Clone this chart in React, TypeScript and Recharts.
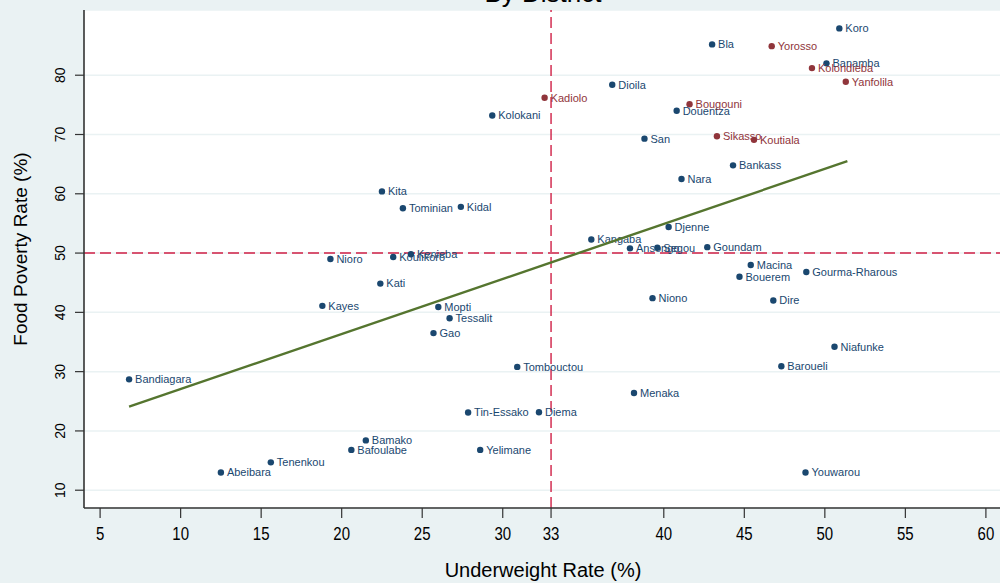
import React from "react";
import {
  ScatterChart,
  Scatter,
  XAxis,
  YAxis,
  CartesianGrid,
  ReferenceLine,
} from "recharts";

// districts outside Sikasso region (navy)
const blueNames = [
  "Koro", "Bla", "Banamba", "Dioila", "Douentza", "Kolokani", "San", "Bankass",
  "Nara", "Kita", "Tominian", "Kidal", "Djenne", "Kangaba", "Ansongo", "Segou",
  "Goundam", "Kenieba", "Koulikoro", "Nioro", "Macina", "Gourma-Rharous",
  "Bouerem", "Kati", "Niono", "Dire", "Kayes", "Mopti", "Tessalit", "Gao",
  "Niafunke", "Tombouctou", "Baroueli", "Bandiagara", "Menaka", "Tin-Essako",
  "Diema", "Bamako", "Bafoulabe", "Yelimane", "Tenenkou", "Abeibara", "Youwarou",
];
const blueUnderweight = [
  50.9, 43.0, 50.1, 36.8, 40.8, 29.35, 38.8, 44.3,
  41.1, 22.5, 23.8, 27.4, 40.3, 35.5, 37.9, 39.6,
  42.7, 24.3, 23.2, 19.3, 45.4, 48.85,
  44.7, 22.4, 39.3, 46.8, 18.8, 26.0, 26.7, 25.7,
  50.6, 30.9, 47.3, 6.8, 38.15, 27.85,
  32.25, 21.5, 20.6, 28.6, 15.6, 12.5, 48.8,
];
const bluePoverty = [
  87.9, 85.2, 82.0, 78.4, 74.0, 73.2, 69.3, 64.8,
  62.5, 60.4, 57.55, 57.8, 54.4, 52.3, 50.8, 50.9,
  51.0, 49.8, 49.35, 49.0, 48.0, 46.8,
  46.0, 44.85, 42.4, 42.0, 41.1, 40.9, 39.0, 36.5,
  34.2, 30.8, 30.9, 28.7, 26.4, 23.1,
  23.15, 18.4, 16.8, 16.8, 14.7, 13.0, 13.0,
];

// Sikasso region districts (maroon)
const redNames = ["Yorosso", "Kolondieba", "Yanfolila", "Kadiolo", "Bougouni", "Sikasso", "Koutiala"];
const redUnderweight = [46.7, 49.2, 51.3, 32.6, 41.6, 43.3, 45.6];
const redPoverty = [84.9, 81.2, 78.9, 76.2, 75.1, 69.7, 69.1];

// fitted line end points
const fitUnderweight = [6.8, 51.4];
const fitPoverty = [24.1, 65.5];

const xTicks = [5, 10, 15, 20, 25, 30, 33, 40, 45, 50, 55, 60];
const yTicks = [10, 20, 30, 40, 50, 60, 70, 80];

const BLUE = "#1a476f";
const RED = "#90353b";
const GREEN = "#55752f";
const REF = "#cf1f45";
const BG = "#eaf2f3";
const AXIS = "#333";

const blueData = blueNames.map((name, i) => ({ name, x: blueUnderweight[i], y: bluePoverty[i] }));
const redData = redNames.map((name, i) => ({ name, x: redUnderweight[i], y: redPoverty[i] }));
const fitData = fitUnderweight.map((x, i) => ({ x, y: fitPoverty[i] }));

function labelledDot(color: string) {
  return (props: any) => {
    const { cx, cy, payload } = props;
    return (
      <g>
        <circle cx={cx} cy={cy} r={3.2} fill={color} />
        <text x={cx + 6} y={cy} dy="0.35em" fontSize={11} fill={color}>
          {payload.name}
        </text>
      </g>
    );
  };
}

const XTick = (props: any) => {
  const { x, y, payload } = props;
  return (
    <g transform={`translate(${x},${y + 13})`}>
      <text transform="scale(1,1.25)" textAnchor="middle" dy="0.36em" fontSize={15} fill="#000">
        {payload.value}
      </text>
    </g>
  );
};

const YTick = (props: any) => {
  const { x, y, payload } = props;
  const bx = x - 8;
  return (
    <text
      x={bx}
      y={y}
      transform={`rotate(-90, ${bx}, ${y})`}
      textAnchor="middle"
      fontSize={14}
      fill="#000"
    >
      {payload.value}
    </text>
  );
};

const YTitle = (props: any) => {
  const vb = props.viewBox;
  const cx = 27;
  const cy = vb.y + vb.height / 2 - 10;
  return (
    <text x={cx} y={cy} transform={`rotate(-90, ${cx}, ${cy})`} textAnchor="middle" fontSize={19} fill="#000">
      Food Poverty Rate (%)
    </text>
  );
};

export default function App() {
  return (
    <div
      style={{
        position: "absolute",
        left: 0,
        top: 0,
        width: 1000,
        height: 583,
        overflow: "hidden",
        background: BG,
        fontFamily: "'Liberation Sans', Arial, sans-serif",
      }}
    >
      <div
        style={{
          position: "absolute",
          left: 84,
          width: 918,
          top: -20,
          textAlign: "center",
          fontSize: 26,
          lineHeight: "26px",
          color: "#000",
        }}
      >
        By District
      </div>
      <ScatterChart width={1002} height={583} margin={{ top: 10, right: 0, bottom: 0, left: 0 }}>
        <CartesianGrid vertical={false} stroke={BG} strokeWidth={1.5} fill="#fff" />
        <XAxis
          type="number"
          dataKey="x"
          domain={[4, 61]}
          ticks={xTicks}
          interval={0}
          allowDataOverflow
          height={75}
          tickSize={10}
          axisLine={{ stroke: AXIS, strokeWidth: 1.6 }}
          tickLine={{ stroke: AXIS, strokeWidth: 1.2 }}
          tick={<XTick />}
          label={{ value: "Underweight Rate (%)", position: "insideBottom", offset: 6, fontSize: 20, fill: "#000" }}
        />
        <YAxis
          type="number"
          dataKey="y"
          domain={[7, 91]}
          ticks={yTicks}
          interval={0}
          allowDataOverflow
          width={84}
          tickSize={9}
          axisLine={{ stroke: AXIS, strokeWidth: 1.6 }}
          tickLine={{ stroke: AXIS, strokeWidth: 1.2 }}
          tick={<YTick />}
          label={<YTitle />}
        />
        <ReferenceLine x={33} stroke={REF} strokeWidth={1.4} strokeDasharray="11 5" />
        <ReferenceLine y={50} stroke={REF} strokeWidth={1.4} strokeDasharray="11 5" />
        <Scatter data={blueData} fill={BLUE} shape={labelledDot(BLUE)} isAnimationActive={false} />
        <Scatter data={redData} fill={RED} shape={labelledDot(RED)} isAnimationActive={false} />
        <Scatter
          data={fitData}
          line={{ stroke: GREEN, strokeWidth: 2.4 }}
          lineType="joint"
          shape={() => <g />}
          isAnimationActive={false}
        />
      </ScatterChart>
    </div>
  );
}
